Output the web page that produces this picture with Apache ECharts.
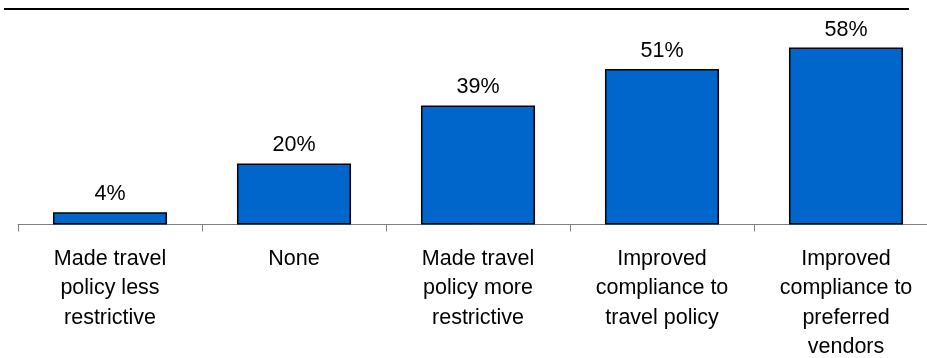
<!DOCTYPE html>
<html>
<head>
<meta charset="utf-8">
<script src="https://cdn.jsdelivr.net/npm/echarts@6/dist/echarts.min.js"></script>
<style>
  html, body { margin: 0; padding: 0; background: #fff; }
  #chart { width: 927px; height: 358px; }
</style>
</head>
<body>
<div id="chart"></div>
<script>
// Effects of the travel programme changes, share of respondents (%)
const categories = [
  'Made travel\npolicy less\nrestrictive',
  'None',
  'Made travel\npolicy more\nrestrictive',
  'Improved\ncompliance to\ntravel policy',
  'Improved\ncompliance to\npreferred\nvendors'
];
const values = [4, 20, 39, 51, 58];

const FONT = 'Liberation Sans, Arial, sans-serif';

const chart = echarts.init(document.getElementById('chart'), null, { renderer: 'canvas' });
chart.setOption({
  animation: false,
  backgroundColor: '#ffffff',
  // plot area runs a little past the right edge; keep the layout fixed
  grid: {
    left: 18, width: 920, top: 11, bottom: 133.5,
    containLabel: false,
    outerBoundsMode: 'none'
  },
  graphic: [{
    type: 'line',
    shape: { x1: 4, y1: 9, x2: 909, y2: 9 },
    style: { stroke: '#000', lineWidth: 2 }
  }],
  xAxis: {
    type: 'category',
    data: categories,
    boundaryGap: true,
    axisLine: { lineStyle: { color: '#808080', width: 1 } },
    axisTick: { show: true, length: 7, lineStyle: { color: '#808080' } },
    axisLabel: {
      color: '#000',
      fontFamily: FONT,
      fontSize: 21.5,
      lineHeight: 29.3,
      margin: 20,
      interval: 0,
      hideOverlap: false
    }
  },
  yAxis: {
    type: 'value',
    min: 0,
    max: 70,
    show: false,
    splitLine: { show: false }
  },
  series: [{
    type: 'bar',
    data: values,
    barCategoryGap: '38%',
    itemStyle: { color: '#0066CC', borderColor: '#000', borderWidth: 1.5 },
    label: {
      show: true,
      position: 'top',
      distance: 7,
      formatter: '{c}%',
      color: '#000',
      fontFamily: FONT,
      fontSize: 21.5
    }
  }]
});
</script>
</body>
</html>
